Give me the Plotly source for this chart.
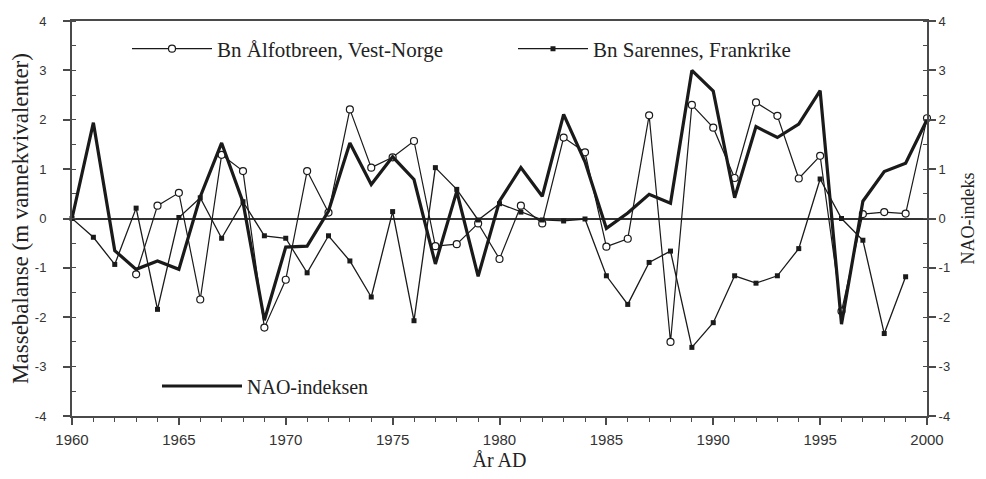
import plotly.graph_objects as go

# ---------------- data ----------------
alfot_years = list(range(1963, 2001))
alfot_bn = [-1.13, 0.26, 0.52, -1.64, 1.29, 0.96, -2.21,
            -1.24, 0.96, 0.12, 2.21, 1.03, 1.24, 1.57, -0.56, -0.52, -0.10,
            -0.82, 0.26, -0.10, 1.64, 1.34, -0.57, -0.41, 2.09, -2.50, 2.30,
            1.84, 0.82, 2.35, 2.08, 0.81, 1.27, -1.88, 0.09, 0.13, 0.10,
            2.03]

sarennes_years = list(range(1960, 2000))
sarennes_bn = [0.00, -0.38, -0.93, 0.21, -1.84, 0.02, 0.42, -0.40, 0.34, -0.35,
               -0.40, -1.10, -0.35, -0.86, -1.59, 0.14, -2.07, 1.03, 0.59, -0.03,
               0.30, 0.13, -0.03, -0.05, -0.01, -1.16, -1.74, -0.89, -0.66, -2.61,
               -2.11, -1.16, -1.31, -1.16, -0.61, 0.80, 0.00, -0.44, -2.33, -1.18]

nao_years = list(range(1960, 2001))
nao_index = [0.00, 1.94, -0.65, -1.03, -0.86, -1.03, 0.44, 1.53, 0.33, -2.06,
             -0.58, -0.56, 0.15, 1.53, 0.69, 1.25, 0.79, -0.92, 0.55, -1.17,
             0.35, 1.03, 0.45, 2.11, 1.15, -0.20, 0.11, 0.49, 0.31, 3.00,
             2.58, 0.42, 1.86, 1.64, 1.91, 2.59, -2.14, 0.35, 0.95, 1.12, 2.00]

x_tick_vals = [1960, 1965, 1970, 1975, 1980, 1985, 1990, 1995, 2000]
x_tick_text = ["1960", "1965", "1970", "1975", "1980", "1985", "1990", "1995", "2000"]
y_tick_vals = [-4, -3, -2, -1, 0, 1, 2, 3, 4]
y_tick_text = ["-4", "-3", "-2", "-1", "0", "1", "2", "3", "4"]

SERIF = "Liberation Serif, Times New Roman, serif"
SANS = "Liberation Sans, Arial, sans-serif"
INK = "#1a1a1a"
AXC = "#4a4a4a"

# page has an 8px body margin; figure sized to fit inside the 986x479 window
PAGE_OFF = 8
FIG_W, FIG_H = 986 - 2 * PAGE_OFF, 479 - 2 * PAGE_OFF
# plot area in window pixels
PL, PR, PT, PB = 72, 927, 21, 416


def px_x(px):
    return (px - PL) / (PR - PL)


def px_y(py):
    return (PB - py) / (PB - PT)


fig = go.Figure()

fig.add_trace(go.Scatter(
    x=alfot_years, y=alfot_bn, mode="lines+markers",
    name="Bn Ålfotbreen, Vest-Norge", legend="legend",
    line=dict(color=INK, width=1.2),
    marker=dict(symbol="circle", size=7, color="white",
                line=dict(color=INK, width=1.2)),
    cliponaxis=False,
))
fig.add_trace(go.Scatter(
    x=sarennes_years, y=sarennes_bn, mode="lines+markers",
    name="Bn Sarennes, Frankrike", legend="legend2",
    line=dict(color=INK, width=1.3),
    marker=dict(symbol="square", size=5, color=INK),
    cliponaxis=False,
))
fig.add_trace(go.Scatter(
    x=nao_years, y=nao_index, mode="lines",
    name="NAO-indeksen", legend="legend3", yaxis="y2",
    line=dict(color=INK, width=3.2),
    cliponaxis=False,
))


def leg(xpx, ypx, size, iw):
    return dict(x=px_x(xpx), y=px_y(ypx), bgcolor="rgba(0,0,0,0)", borderwidth=0,
                font=dict(family=SERIF, size=size, color="#222"),
                itemwidth=iw, xanchor="left", yanchor="middle")


fig.update_layout(
    width=FIG_W, height=FIG_H,
    margin=dict(l=PL - PAGE_OFF, r=FIG_W - (PR - PAGE_OFF),
                t=PT - PAGE_OFF, b=FIG_H - (PB - PAGE_OFF)),
    paper_bgcolor="white", plot_bgcolor="white",
    showlegend=True,
    legend=leg(127, 49, 21, 80),
    legend2=leg(513, 49, 21, 70),
    legend3=leg(157, 386, 20, 80),
    xaxis=dict(
        range=[1960, 2000], tickvals=x_tick_vals, ticktext=x_tick_text,
        ticks="outside", ticklen=7, tickwidth=1.5, tickcolor=AXC,
        minor=dict(dtick=1, ticks="outside", ticklen=4, tickwidth=1, tickcolor=AXC),
        showline=True, linecolor=AXC, linewidth=2, mirror=True,
        showgrid=False, zeroline=False, ticklabelstandoff=2, automargin=False,
        tickfont=dict(family=SANS, size=15, color="#333"),
        title=dict(text="År AD", font=dict(family=SERIF, size=20, color="#222"),
                   standoff=14),
    ),
    yaxis=dict(
        range=[-4, 4], tickvals=y_tick_vals, ticktext=y_tick_text,
        ticks="outside", ticklen=7, tickwidth=1.5, tickcolor=AXC,
        minor=dict(dtick=0.5, ticks="inside", ticklen=4, tickwidth=1, tickcolor=AXC),
        showline=True, linecolor=AXC, linewidth=2,
        showgrid=False, zeroline=True, zerolinecolor="#333", zerolinewidth=2,
        ticklabelstandoff=14, automargin=False,
        tickfont=dict(family=SANS, size=13, color="#333"),
        title=dict(text="Massebalanse (m vannekvivalenter)",
                   font=dict(family=SERIF, size=23, color="#222"), standoff=4),
    ),
    yaxis2=dict(
        range=[-4, 4], overlaying="y", side="right",
        tickvals=y_tick_vals, ticktext=y_tick_text,
        ticks="outside", ticklen=7, tickwidth=1.5, tickcolor=AXC,
        minor=dict(dtick=0.5, ticks="inside", ticklen=4, tickwidth=1, tickcolor=AXC),
        showline=True, linecolor=AXC, linewidth=2,
        showgrid=False, zeroline=False, automargin=False,
        tickfont=dict(family=SANS, size=13, color="#333"),
        title=dict(text="NAO-indeks",
                   font=dict(family=SERIF, size=18, color="#222"), standoff=20),
    ),
)

fig.write_html("out.html")
